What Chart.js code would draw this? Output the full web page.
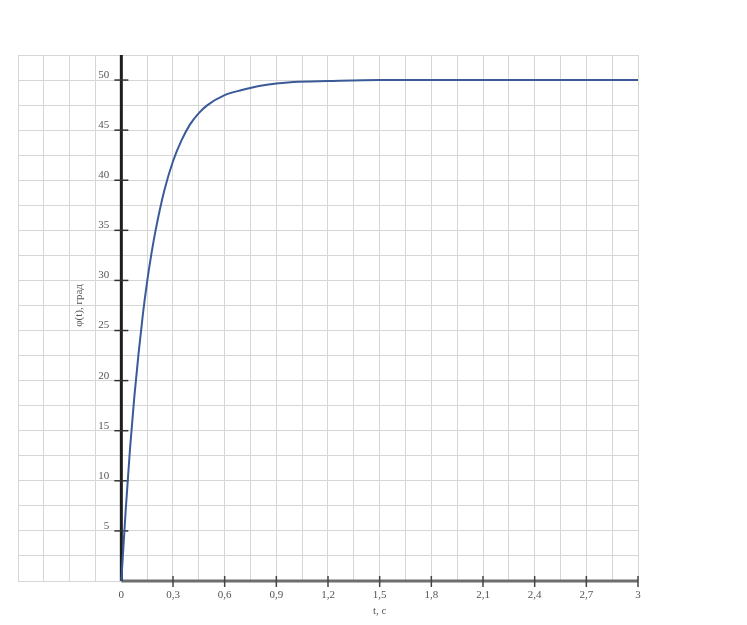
<!DOCTYPE html>
<html><head><meta charset="utf-8">
<script src="https://cdn.jsdelivr.net/npm/chart.js@4"></script>
<style>html,body{margin:0;padding:0;background:#fff}#wrap{width:747px;height:625px;position:relative}</style>
</head><body><div id="wrap"><canvas id="c" width="747" height="625"></canvas></div>
<script>
const timeValues  = [0, 0.025, 0.05, 0.075, 0.1, 0.125, 0.15, 0.175, 0.2, 0.25, 0.3, 0.35, 0.4, 0.45, 0.5, 0.6, 0.7, 0.8, 0.9, 1.0, 1.2, 1.5, 1.8, 2.1, 2.4, 2.7, 3.0];
const angleValues = [0, 7.0, 13.1, 18.3, 22.7, 26.6, 29.9, 32.7, 35.1, 39.0, 41.9, 44.0, 45.6, 46.7, 47.5, 48.5, 49.0, 49.4, 49.65, 49.8, 49.9, 50, 50, 50, 50, 50, 50];
const xTickValues = [0, 0.3, 0.6, 0.9, 1.2, 1.5, 1.8, 2.1, 2.4, 2.7, 3];
const xTickLabels = ['0', '0,3', '0,6', '0,9', '1,2', '1,5', '1,8', '2,1', '2,4', '2,7', '3'];
const yTickValues = [5, 10, 15, 20, 25, 30, 35, 40, 45, 50];
const yTickLabels = ['5', '10', '15', '20', '25', '30', '35', '40', '45', '50'];
const xTitle = 't, c';
const yTitle = 'φ(t), град';

const axesPlugin = {
  id: 'axesPlugin',
  beforeDatasetsDraw(chart) {
    const {ctx, scales: {x, y}} = chart;
    const x0 = x.getPixelForValue(0), y0 = y.getPixelForValue(0);
    ctx.save();
    ctx.strokeStyle = '#6e6e6e'; ctx.lineWidth = 3;
    ctx.beginPath(); ctx.moveTo(x0, y0); ctx.lineTo(x.getPixelForValue(x.max), y0); ctx.stroke();
    ctx.lineWidth = 1.5; ctx.strokeStyle = '#444';
    xTickValues.forEach(v => { if (v === 0) return; const px = x.getPixelForValue(v);
      ctx.beginPath(); ctx.moveTo(px, y0 - 5); ctx.lineTo(px, y0 + 6); ctx.stroke(); });
    ctx.strokeStyle = '#1e1e1e'; ctx.lineWidth = 3;
    ctx.beginPath(); ctx.moveTo(x0, y.getPixelForValue(y.max)); ctx.lineTo(x0, y0); ctx.stroke();
    ctx.lineWidth = 1.5; ctx.strokeStyle = '#333';
    yTickValues.forEach(v => { const py = y.getPixelForValue(v);
      ctx.beginPath(); ctx.moveTo(x0 - 7, py); ctx.lineTo(x0 + 7, py); ctx.stroke(); });
    ctx.restore();
  },
  afterDraw(chart) {
    const {ctx, scales: {x, y}} = chart;
    const x0 = x.getPixelForValue(0), y0 = y.getPixelForValue(0);
    ctx.save();
    ctx.font = '11px "Liberation Serif", serif';
    ctx.fillStyle = '#555';
    ctx.textAlign = 'center'; ctx.textBaseline = 'middle';
    xTickValues.forEach((v, i) => ctx.fillText(xTickLabels[i], x.getPixelForValue(v), y0 + 14));
    ctx.textAlign = 'right';
    yTickValues.forEach((v, i) => ctx.fillText(yTickLabels[i], x0 - 12, y.getPixelForValue(v) - 5));
    ctx.textAlign = 'center';
    ctx.fillText(xTitle, x.getPixelForValue(1.5), y0 + 30);
    ctx.translate(x0 - 42, y.getPixelForValue(27.5));
    ctx.rotate(-Math.PI / 2);
    ctx.fillText(yTitle, 0, 0);
    ctx.restore();
  }
};

new Chart(document.getElementById('c'), {
  type: 'line',
  data: {
    datasets: [{
      data: timeValues.map((t, i) => ({x: t, y: angleValues[i]})),
      borderColor: '#3a5a98', borderWidth: 2, pointRadius: 0,
      cubicInterpolationMode: 'monotone', fill: false
    }]
  },
  options: {
    responsive: false, animation: false, devicePixelRatio: 1,
    layout: {padding: {left: 18, top: 55, right: 109, bottom: 44}},
    plugins: {legend: {display: false}, tooltip: {enabled: false}},
    scales: {
      x: {type: 'linear', min: -0.6, max: 3,
          ticks: {display: false, stepSize: 0.15},
          grid: {color: '#d6d6d6', lineWidth: 1, drawTicks: false},
          border: {display: false}},
      y: {type: 'linear', min: 0, max: 52.5,
          ticks: {display: false, stepSize: 2.5},
          grid: {color: '#d6d6d6', lineWidth: 1, drawTicks: false},
          border: {display: false}}
    }
  },
  plugins: [axesPlugin]
});
</script></body></html>
